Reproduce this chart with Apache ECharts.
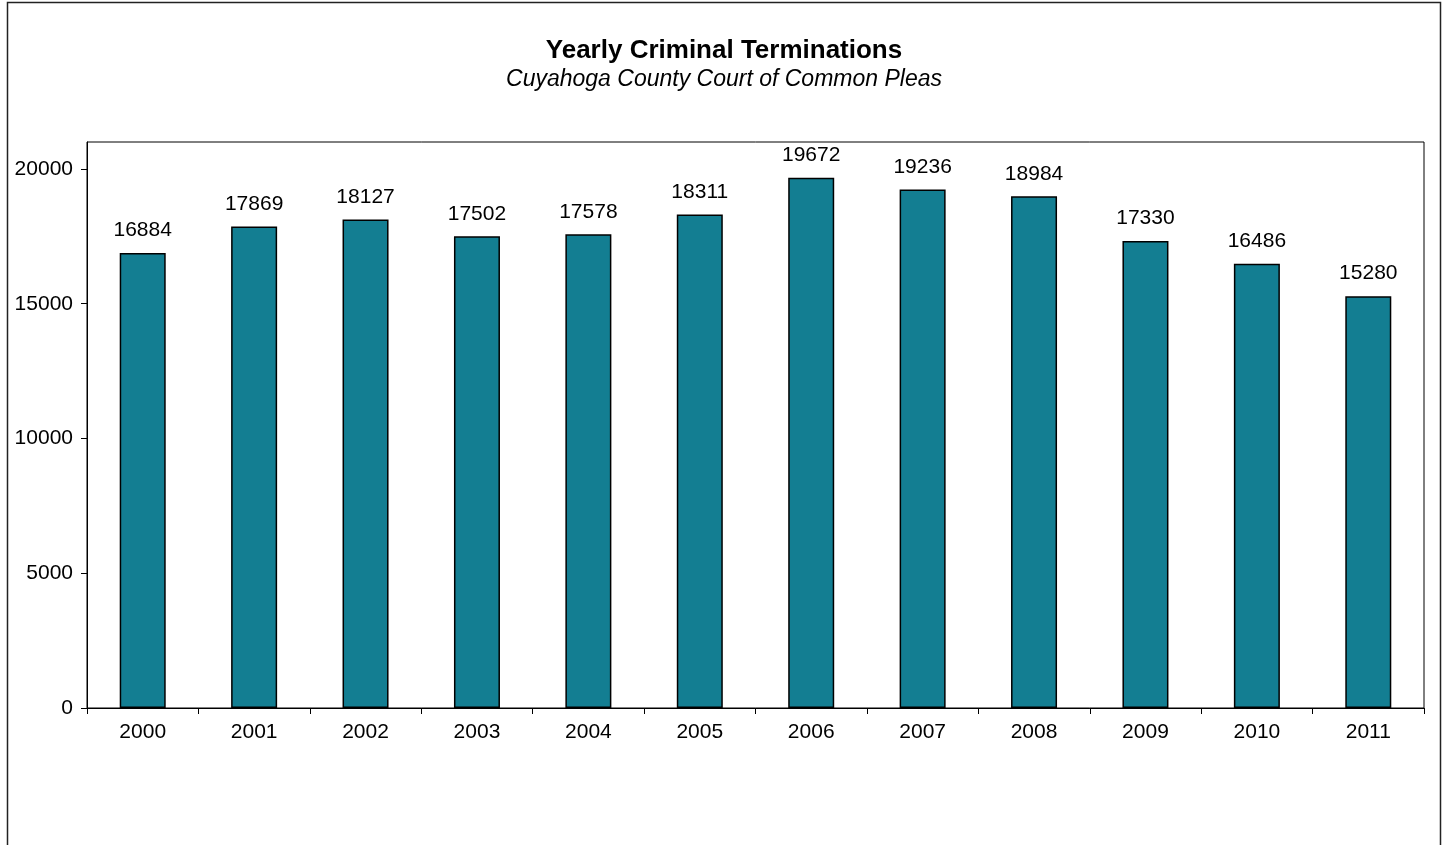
<!DOCTYPE html>
<html>
<head>
<meta charset="utf-8">
<title>Yearly Criminal Terminations</title>
<script src="https://cdn.jsdelivr.net/npm/echarts@6/dist/echarts.min.js"></script>
<style>
  html, body { margin: 0; padding: 0; background: #fff; }
  #chart { width: 1448px; height: 845px; }
</style>
</head>
<body>
<div id="chart"></div>
<script>
const years = ["2000", "2001", "2002", "2003", "2004", "2005", "2006", "2007", "2008", "2009", "2010", "2011"];
const terminations = [16884, 17869, 18127, 17502, 17578, 18311, 19672, 19236, 18984, 17330, 16486, 15280];

const chart = echarts.init(document.getElementById("chart"));
const font = "'Liberation Sans', Arial, sans-serif";

const option = {
  backgroundColor: "#fff",
  textStyle: { fontFamily: font },
  title: {
    text: "Yearly Criminal Terminations",
    subtext: "Cuyahoga County Court of Common Pleas",
    left: "center",
    top: 33,
    itemGap: 4,
    textStyle: { fontFamily: font, fontSize: 26, fontWeight: "bold", color: "#000" },
    subtextStyle: { fontFamily: font, fontSize: 23, fontStyle: "italic", color: "#000" }
  },
  graphic: [
    {
      type: "rect",
      shape: { x: 7.5, y: 2.5, width: 1433, height: 900 },
      style: { fill: "none", stroke: "#222", lineWidth: 1.5 },
      z: -1
    }
  ],
  grid: {
    left: 87,
    right: 24,
    top: 142,
    bottom: 137,
    show: true,
    borderColor: "#000",
    borderWidth: 1
  },
  xAxis: {
    type: "category",
    data: years,
    axisLine: { lineStyle: { color: "#000", width: 1 } },
    axisTick: { show: true, alignWithLabel: false, length: 6, lineStyle: { color: "#000" } },
    axisLabel: { color: "#000", fontSize: 21, margin: 14, fontFamily: font }
  },
  yAxis: {
    type: "value",
    min: 0,
    max: 21000,
    interval: 5000,
    splitLine: { show: false },
    axisLine: { show: true, lineStyle: { color: "#000", width: 1 } },
    axisTick: { show: true, length: 6, lineStyle: { color: "#000" } },
    axisLabel: {
      color: "#000",
      fontSize: 21,
      margin: 14,
      fontFamily: font,
      showMaxLabel: false,
      formatter: function (v) { return String(v); }
    }
  },
  series: [
    {
      type: "bar",
      data: terminations,
      barWidth: 46,
      itemStyle: { color: "#137E92", borderColor: "#000", borderWidth: 1.5 },
      label: {
        show: true,
        position: "top",
        distance: 12,
        color: "#000",
        fontSize: 21,
        fontFamily: font
      }
    }
  ]
};

chart.setOption(option);
</script>
</body>
</html>
